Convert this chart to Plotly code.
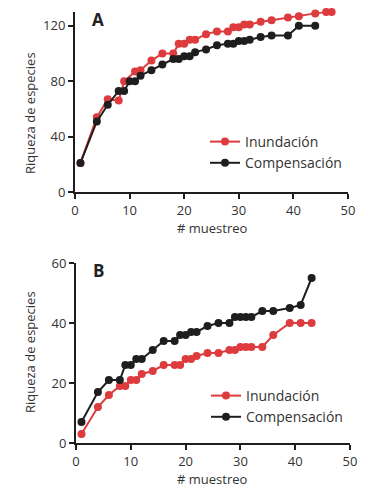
import plotly.graph_objects as go

# Panel A data
a_inund_x = [1, 4, 6, 8, 9, 11, 12, 14, 16, 18, 19, 20, 21, 22, 24, 26, 28, 29, 30, 31, 32, 34, 36, 39, 41, 44, 46, 47]
a_inund_y = [21, 54, 67, 66, 80, 87, 88, 95, 100, 100, 107, 107, 110, 110, 114, 116, 116, 119, 119, 121, 121, 123, 124, 126, 127, 129, 130, 130]
a_comp_x = [1, 4, 6, 8, 9, 10, 11, 12, 14, 16, 18, 19, 20, 21, 22, 24, 26, 28, 29, 30, 31, 32, 34, 36, 39, 41, 44]
a_comp_y = [21, 51, 63, 73, 73, 80, 80, 84, 88, 92, 96, 96, 98, 98, 101, 103, 106, 107, 107, 109, 109, 110, 112, 113, 113, 120, 120]

# Panel B data
b_inund_x = [1, 4, 6, 8, 9, 10, 11, 12, 14, 16, 18, 19, 20, 21, 22, 24, 26, 28, 29, 30, 31, 32, 34, 36, 39, 41, 43]
b_inund_y = [3, 12, 16, 19, 19, 21, 21, 23, 24, 26, 26, 26, 28, 28, 29, 30, 30, 31, 31, 32, 32, 32, 32, 36, 40, 40, 40]
b_comp_x = [1, 4, 6, 8, 9, 10, 11, 12, 14, 16, 18, 19, 20, 21, 22, 24, 26, 28, 29, 30, 31, 32, 34, 36, 39, 41, 43]
b_comp_y = [7, 17, 21, 21, 26, 26, 28, 28, 31, 34, 34, 36, 36, 37, 37, 39, 40, 40, 42, 42, 42, 42, 44, 44, 45, 46, 55]

x_ticks = [0, 10, 20, 30, 40, 50]
a_y_ticks = [0, 40, 80, 120]
b_y_ticks = [0, 20, 40, 60]

RED = "#dd3b3e"
BLACK = "#1e1e1e"
FONT = "Open Sans"
W, H = 368, 503

fig = go.Figure()

def add(x, y, name, color, xa, ya, legend):
    fig.add_trace(go.Scatter(
        x=x, y=y, name=name, mode="lines+markers",
        line=dict(color=color, width=2),
        marker=dict(color=color, size=8),
        xaxis=xa, yaxis=ya, legend=legend, cliponaxis=False,
    ))

add(a_inund_x, a_inund_y, "Inundación", RED, "x", "y", "legend")
add(a_comp_x, a_comp_y, "Compensación", BLACK, "x", "y", "legend")
add(b_inund_x, b_inund_y, "Inundación", RED, "x2", "y2", "legend2")
add(b_comp_x, b_comp_y, "Compensación", BLACK, "x2", "y2", "legend2")

px_x = lambda p: p / W
px_y = lambda p: 1 - p / H

axis_common = dict(
    showline=True, linecolor=BLACK, linewidth=2, showgrid=False, zeroline=False,
    ticks="outside", ticklen=5, tickwidth=2, tickcolor=BLACK,
    tickfont=dict(family=FONT, size=13, color="#333"),
)

xdom = [px_x(75), px_x(348)]
fig.update_layout(
    width=W, height=H,
    margin=dict(l=0, r=0, t=0, b=0, autoexpand=False),
    plot_bgcolor="white", paper_bgcolor="white",
    showlegend=True,
    xaxis=dict(domain=xdom, range=[0, 50], tickvals=x_ticks, anchor="y", **axis_common),
    yaxis=dict(domain=[px_y(192), px_y(12)], range=[0, 130], tickvals=a_y_ticks, anchor="x", **axis_common),
    xaxis2=dict(domain=[px_x(76), px_x(350)], range=[0, 50], tickvals=x_ticks, anchor="y2", **axis_common),
    yaxis2=dict(domain=[px_y(443), px_y(263)], range=[0, 60], tickvals=b_y_ticks, anchor="x2", **axis_common),
    legend=dict(x=px_x(205), y=px_y(126), xanchor="left", yanchor="top",
                font=dict(family=FONT, size=14, color="#333"), bgcolor="rgba(0,0,0,0)",
                tracegroupgap=0, itemsizing="trace"),
    legend2=dict(x=px_x(206), y=px_y(380), xanchor="left", yanchor="top",
                 font=dict(family=FONT, size=14, color="#333"), bgcolor="rgba(0,0,0,0)",
                 tracegroupgap=0, itemsizing="trace"),
)

ann = []
def text(x, y, t, size=13, bold=False, angle=0, color="#333"):
    ann.append(dict(x=px_x(x), y=px_y(y), xref="paper", yref="paper", text=("<b>%s</b>" % t) if bold else t,
                    showarrow=False, textangle=angle, xanchor="center", yanchor="middle",
                    font=dict(family=FONT, size=size, color=color)))

text(98, 20, "A", size=17, bold=True, color="#222")
text(98, 270, "B", size=17, bold=True, color="#222")
text(30, 113, "Riqueza de especies", angle=-90)
text(30, 352, "Riqueza de especies", angle=-90)
text(212, 228, "# muestreo")
text(212, 479, "# muestreo")
fig.update_layout(annotations=ann)

fig.write_html("out.html", config={"displayModeBar": False},
               post_script="document.body.style.margin='0';document.body.style.overflow='hidden';")
